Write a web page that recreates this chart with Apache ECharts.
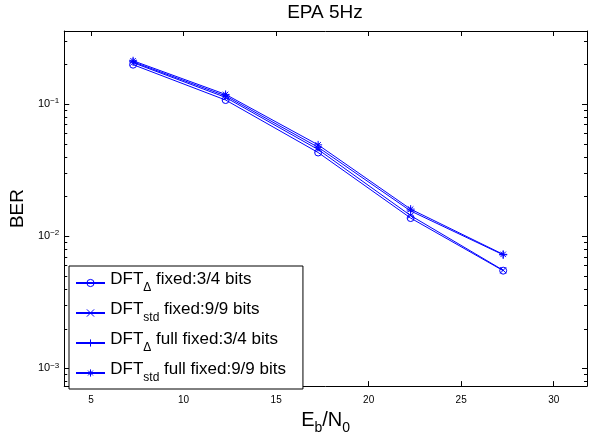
<!DOCTYPE html>
<html><head><meta charset="utf-8">
<script src="https://cdn.jsdelivr.net/npm/echarts@6/dist/echarts.min.js"></script>
<style>html,body{margin:0;padding:0;background:#fff}#c{width:595px;height:440px}</style>
</head><body><div id="c"></div>
<script>
// ---- data ----
const ebn0 = [7.27, 12.27, 17.27, 22.27, 27.27];
const berDeltaFixed = [0.198, 0.107, 0.0429, 0.0137, 0.00548];
const berStdFixed = [0.205, 0.112, 0.0452, 0.0143, 0.00552];
const berDeltaFull = [0.208, 0.115, 0.0470, 0.0155, 0.00722];
const berStdFull = [0.212, 0.118, 0.0490, 0.0160, 0.00728];
const seriesNames = ['DFTΔ fixed:3/4 bits', 'DFTstd fixed:9/9 bits', 'DFTΔ full fixed:3/4 bits', 'DFTstd full fixed:9/9 bits'];
const legendParts = [['DFT', 'Δ', ' fixed:3/4 bits'], ['DFT', 'std', ' fixed:9/9 bits'], ['DFT', 'Δ', ' full fixed:3/4 bits'], ['DFT', 'std', ' full fixed:9/9 bits']];
const xTicks = [5, 10, 15, 20, 25, 30];
const xRange = [3.55, 31.8];
const yRange = [7.34e-4, 0.356];
const yMinorTicks = [8e-4, 9e-4, 2e-3, 3e-3, 4e-3, 5e-3, 6e-3, 7e-3, 8e-3, 9e-3, 2e-2, 3e-2, 4e-2, 5e-2, 6e-2, 7e-2, 8e-2, 9e-2, 2e-1, 3e-1];
const titleText = 'EPA 5Hz';

// ---- chart ----
const FONT = 'Liberation Sans, Arial, Helvetica, sans-serif';
const BLUE = '#0000ff';
const symbols = [
  'path://M10,5A5,5,0,1,1,0,5A5,5,0,1,1,10,5Z',
  'path://M0,0L10,10M10,0L0,10',
  'path://M5,0L5,10M0,5L10,5',
  'path://M5,0L5,10M0,5L10,5M1.6,1.6L8.4,8.4M8.4,1.6L1.6,8.4'
];
const symbolSizes = [7, 6, 8, 8];
const seriesValues = [berDeltaFixed, berStdFixed, berDeltaFull, berStdFull];

const chart = echarts.init(document.getElementById('c'), null, {renderer: 'canvas'});

function yLabel(v) {
  const e = Math.log10(v);
  const r = Math.round(e);
  if (Math.abs(e - r) > 1e-6) return '';
  return '{b|10}{s|' + (r < 0 ? '\u2212' : '') + Math.abs(r) + '}';
}

const axisCommon = {
  axisLine: {show: true, onZero: false, lineStyle: {color: '#000', width: 1}},
  splitLine: {show: false},
};

const option = {
  animation: false,
  backgroundColor: '#fff',
  title: {
    text: titleText, left: 325, top: 3, padding: 0, textAlign: 'center',
    textStyle: {fontFamily: FONT, fontSize: 19, fontWeight: 'normal', color: '#000'}
  },
  grid: {left: 64, right: 8, top: 31, bottom: 49, containLabel: false},
  legend: {
    orient: 'vertical', left: 69, top: 266, padding: [1, 17, 0, 6], itemGap: -2,
    itemWidth: 29, itemHeight: 9, selectedMode: false,
    backgroundColor: '#fff', borderColor: '#000', borderWidth: 1, borderRadius: 0,
    itemStyle: {borderWidth: 1},
    data: seriesNames,
    formatter: function (name) {
      const p = legendParts[seriesNames.indexOf(name)];
      return '{z| }{m|' + p[0] + '}{s|' + p[1] + '}{m|' + p[2] + '}';
    },
    textStyle: {
      color: '#000', fontFamily: FONT, fontSize: 17,
      rich: {
        z: {fontFamily: FONT, fontSize: 1, lineHeight: 32, height: 32, color: '#000'},
        m: {fontFamily: FONT, fontSize: 17, height: 24, lineHeight: 32, verticalAlign: 'top', color: '#000'},
        s: {fontFamily: FONT, fontSize: 12, height: 22, lineHeight: 32, verticalAlign: 'bottom', color: '#000'}
      }
    }
  },
  xAxis: [
    Object.assign({}, axisCommon, {
      type: 'value', position: 'bottom', min: xRange[0], max: xRange[1],
      axisTick: {show: true, inside: true, length: 5, customValues: xTicks, lineStyle: {color: '#000'}},
      axisLabel: {customValues: xTicks, margin: 9, fontSize: 10, fontFamily: FONT, color: '#000'},
      name: '{m|E}{s|b}{m|/N}{s|0}', nameLocation: 'middle', nameGap: 14,
      nameTextStyle: {
        color: '#000', fontFamily: FONT,
        rich: {
          m: {fontFamily: FONT, fontSize: 20, lineHeight: 30, color: '#000'},
          s: {fontFamily: FONT, fontSize: 14, lineHeight: 8, verticalAlign: 'bottom', color: '#000'}
        }
      }
    }),
    Object.assign({}, axisCommon, {
      type: 'value', position: 'top', min: xRange[0], max: xRange[1],
      axisTick: {show: true, inside: true, length: 5, customValues: xTicks, lineStyle: {color: '#000'}},
      axisLabel: {show: false}
    })
  ],
  yAxis: [
    Object.assign({}, axisCommon, {
      type: 'log', logBase: 10, position: 'left', min: yRange[0], max: yRange[1],
      axisTick: {show: true, inside: true, length: 5, lineStyle: {color: '#000'}},
      axisLabel: {
        margin: 5, formatter: yLabel, showMinLabel: false, showMaxLabel: false,
        rich: {
          b: {fontFamily: FONT, fontSize: 11, lineHeight: 14, color: '#000'},
          s: {fontFamily: FONT, fontSize: 8, lineHeight: 5, verticalAlign: 'top', color: '#000'}
        }
      },
      name: 'BER', nameLocation: 'middle', nameGap: 27, nameRotate: 90,
      nameTextStyle: {fontFamily: FONT, fontSize: 19, color: '#000'}
    }),
    Object.assign({}, axisCommon, {
      type: 'log', logBase: 10, position: 'right', min: yRange[0], max: yRange[1],
      axisTick: {show: true, inside: true, length: 5, lineStyle: {color: '#000'}},
      axisLabel: {show: false}
    })
  ],
  series: seriesNames.map(function (name, k) {
    return {
      type: 'line', name: name, xAxisIndex: 0, yAxisIndex: 0,
      data: ebn0.map(function (x, i) { return [x, seriesValues[k][i]]; }),
      symbol: symbols[k], symbolSize: symbolSizes[k], showAllSymbol: true,
      lineStyle: {color: BLUE, width: 1},
      itemStyle: {color: 'rgba(0,0,0,0)', borderColor: BLUE, borderWidth: 1},
      emphasis: {disabled: true}, z: 2 + k
    };
  })
};
chart.setOption(option);

// minor log ticks, positioned through the y axis scale
const xl = chart.convertToPixel({xAxisIndex: 0}, xRange[0]);
const xr = chart.convertToPixel({xAxisIndex: 0}, xRange[1]);
const minorGraphics = [];
yMinorTicks.forEach(function (v) {
  const y = Math.round(chart.convertToPixel({yAxisIndex: 0}, v)) + 0.5;
  minorGraphics.push({type: 'line', shape: {x1: xl, y1: y, x2: xl + 3, y2: y}, style: {stroke: '#000', lineWidth: 1}, silent: true, z: 10});
  minorGraphics.push({type: 'line', shape: {x1: xr, y1: y, x2: xr - 3, y2: y}, style: {stroke: '#000', lineWidth: 1}, silent: true, z: 10});
});
chart.setOption({graphic: minorGraphics});
</script>
</body></html>
